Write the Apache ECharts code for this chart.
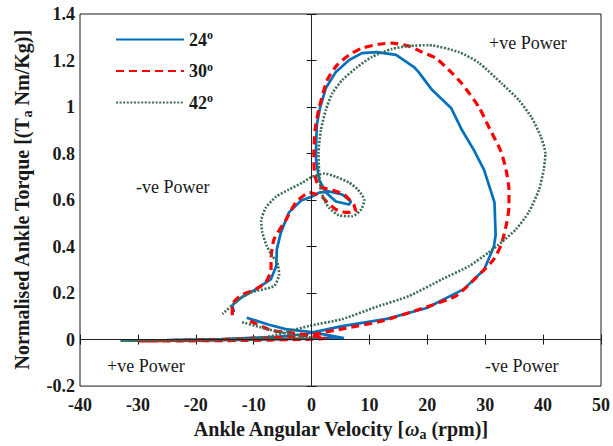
<!DOCTYPE html>
<html lang="en">
<head>
    <meta charset="UTF-8">
    <title>Ankle torque vs angular velocity</title>
    <script src="https://cdn.jsdelivr.net/npm/echarts@6.0.0/dist/echarts.min.js"></script>
    <style>
        html, body { margin: 0; padding: 0; background: #fff; }
        #main { width: 613px; height: 446px; }
    </style>
</head>
<body>
<div id="main"></div>
<script>
    // axis ticks
    var xTicks = [-40, -30, -20, -10, 0, 10, 20, 30, 40, 50];
    var yTicks = [-0.2, 0, 0.2, 0.4, 0.6, 0.8, 1, 1.2, 1.4];

    // legend names (degrees)
    var angles = ['24', '30', '42'];

    // 24 deg : angular velocity (rpm) / normalised torque
    var vel24 = [-11.2, -7.5, -4.5, 0, 5.6, 2, 0, -10, -20, -33, -25, -15, -6, -2, 0,
        5.3, 13.0, 19.9, 26.3, 29.8, 31.5, 31.8, 31.6, 29.8, 28.0, 26.0, 24.1, 20.8, 18.5, 17.7,
        14.6, 11.3, 8.7, 6.5, 4.2, 2.5, 1.5, 0.95, 0.8, 0.78, 1.3, 2.5, 4.2, 6.5, 6.8,
        5.3, 3.0, 1.3, 0.1, -1.8, -3.9, -5.3, -6.0, -6.1, -7.0, -9.6, -12.0, -13.7, -13.4];
    var tq24 = [0.094, 0.065, 0.045, 0.032, 0.006, 0.006, 0.004, 0.0, -0.003, -0.004, -0.002, 0.002, 0.012, 0.022, 0.03,
        0.058, 0.089, 0.136, 0.217, 0.30, 0.40, 0.45, 0.59, 0.73, 0.817, 0.90, 0.996, 1.074, 1.15, 1.172,
        1.224, 1.236, 1.232, 1.202, 1.151, 1.083, 1.0, 0.93, 0.85, 0.774, 0.688, 0.632, 0.594, 0.581, 0.594,
        0.624, 0.637, 0.632, 0.615, 0.598, 0.547, 0.461, 0.388, 0.316, 0.26, 0.217, 0.183, 0.148, 0.118];

    // 30 deg
    var vel30 = [-10.6, -7.0, -4, 0, 2.5, 0, -10, -20, -30, -20, -10, -3, 0.8,
        5.3, 12.2, 19.8, 24.9, 29.4, 31.5, 32.8, 33.7, 34.1, 34.1, 33.6, 32.7, 30.6, 28.9, 26.0, 24.1,
        21.5, 19.1, 16.8, 13.9, 11.6, 8.7, 6.5, 4.4, 2.7, 1.3, 0.6, 0.4, 0.5, 1.2,
        3.6, 5.6, 7.3, 7.6, 5.9, 4.2, 2.7, 1.8, -0.4, -2.7, -4.4, -6.5, -7.0, -7.0, -7.9,
        -9.6, -12.2, -13.7, -13.7];
    var tq30 = [0.08, 0.04, 0.03, 0.018, 0.006, 0.002, -0.003, -0.005, -0.006, -0.002, 0.005, 0.012, 0.025,
        0.046, 0.08, 0.14, 0.187, 0.29, 0.346, 0.41, 0.50, 0.57, 0.645, 0.73, 0.81, 0.915, 1.0, 1.1, 1.15,
        1.21, 1.236, 1.262, 1.275, 1.27, 1.253, 1.224, 1.18, 1.116, 0.996, 0.90, 0.80, 0.72, 0.66,
        0.642, 0.624, 0.58, 0.55, 0.547, 0.56, 0.59, 0.615, 0.632, 0.59, 0.516, 0.43, 0.345, 0.30, 0.247,
        0.217, 0.19, 0.15, 0.10];

    // 42 deg
    var vel42 = [-12, -9, -5.6, -3, 0, -10, -20, -33, -20, -8, -4, -0.4,
        5.3, 11.1, 16.8, 22.6, 27.2, 30.6, 32.9, 35.3, 37.5, 39.3, 40.1, 40.4, 39.6, 38.0, 35.8,
        32.9, 28.9, 25.5, 20.3, 16.8, 13.9, 10.4, 7.9, 5.3, 3.6, 2.5, 1.6, 1.2, 1.3, 1.6,
        2.2, 3.0, 4.7, 7.0, 8.6, 9.1, 8.0, 6.5, 4.2, 2.2, 0.1, -1.6, -3.9, -6.1, -7.9,
        -8.7, -8.5, -7.7, -6.8, -5.9, -5.6, -6.5, -10.3, -12.5, -15.4];
    var tq42 = [0.075, 0.054, 0.033, 0.02, 0.008, 0.0, -0.003, -0.005, -0.001, 0.01, 0.035, 0.059,
        0.088, 0.14, 0.187, 0.26, 0.316, 0.375, 0.42, 0.474, 0.547, 0.645, 0.73, 0.80, 0.873, 0.955, 1.03,
        1.10, 1.19, 1.236, 1.266, 1.262, 1.25, 1.215, 1.172, 1.116, 1.06, 0.99, 0.90, 0.80, 0.73, 0.645,
        0.60, 0.567, 0.535, 0.53, 0.56, 0.60, 0.645, 0.675, 0.70, 0.714, 0.70, 0.675, 0.645, 0.615, 0.567,
        0.51, 0.46, 0.40, 0.36, 0.33, 0.28, 0.23, 0.204, 0.174, 0.11];

    var serif = 'Liberation Serif';
    var ink = '#1a1a1a';

    function pairs(xs, ys) {
        var out = [];
        for (var i = 0; i < xs.length; i++) out.push([xs[i], ys[i]]);
        return out;
    }

    var myChart = echarts.init(document.getElementById('main'), null, {renderer: 'svg'});

    var labelStyle = {fontFamily: serif, fontWeight: 'bold', fontSize: 18, color: ink};
    var nameStyle = {fontFamily: serif, fontWeight: 'bold', fontSize: 20, color: ink};
    var subStyle = {fontFamily: serif, fontWeight: 'bold', fontSize: 14, color: ink, padding: [10, 0, 0, 0]};

    function baseX(pos) {
        return {
            type: 'value', position: pos,
            min: xTicks[0], max: xTicks[xTicks.length - 1], interval: 10,
            axisLine: {show: false},
            axisTick: {inside: true, length: 5, lineStyle: {color: ink}},
            splitLine: {show: false}
        };
    }
    function baseY(pos) {
        return {
            type: 'value', position: pos,
            min: yTicks[0], max: yTicks[yTicks.length - 1], interval: 0.2,
            axisLine: {show: false},
            axisTick: {inside: true, length: 5, lineStyle: {color: ink}},
            splitLine: {show: false}
        };
    }

    // tick labels: plain hyphen minus like the source
    function tickFmt(v) {
        var s = String(Math.round(v * 10) / 10).replace('\u2212', '-');
        return '{t|' + s + '}';
    }

    var xMain = baseX('bottom');
    xMain.axisLabel = {margin: 10, formatter: tickFmt, rich: {t: labelStyle}};
    xMain.name = 'Ankle Angular Velocity [{w|ω}{sub|a} (rpm)]';
    xMain.nameLocation = 'middle';
    xMain.nameGap = 30;
    xMain.nameTextStyle = Object.assign({}, nameStyle, {
        rich: {
            w: Object.assign({}, nameStyle, {fontStyle: 'italic'}),
            sub: subStyle
        }
    });
    var xTop = baseX('top');
    xTop.axisLabel = {show: false};

    var yMain = baseY('left');
    yMain.axisLabel = {margin: 5, formatter: tickFmt, rich: {t: labelStyle}};
    yMain.name = 'Normalised Ankle Torque [(T{sub|a} Nm/Kg)]';
    yMain.nameLocation = 'middle';
    yMain.nameRotate = 90;
    yMain.nameGap = 46;
    yMain.nameTextStyle = Object.assign({}, nameStyle, {rich: {sub: subStyle}});
    var yRight = baseY('right');
    yRight.axisLabel = {show: false};

    var option = {
        animation: false,
        textStyle: {fontFamily: serif},
        grid: {left: 80, right: 11, top: 14, bottom: 59, show: true, borderColor: ink, borderWidth: 1},
        xAxis: [xMain, xTop],
        yAxis: [yMain, yRight],
        legend: {
            data: angles,
            orient: 'vertical',
            left: 115, top: 29, padding: 0,
            itemWidth: 68, itemHeight: 14, itemGap: 12,
            itemStyle: {opacity: 0},
            formatter: function (name) { return name + '{sup|o}'; },
            textStyle: {
                fontFamily: serif, fontWeight: 'bold', fontSize: 18, color: ink,
                rich: {sup: {fontFamily: serif, fontWeight: 'bold', fontSize: 12, color: ink, padding: [0, 0, 9, 0]}}
            }
        },
        series: [
            {
                name: angles[0], type: 'line', data: pairs(vel24, tq24),
                symbol: 'none', smooth: false,
                lineStyle: {color: '#0072BD', width: 2.7},
                itemStyle: {color: '#0072BD'},
                markLine: {
                    silent: true, symbol: ['none', 'none'], label: {show: false},
                    lineStyle: {color: '#222', width: 1, type: 'solid'},
                    data: [{xAxis: 0}, {yAxis: 0}]
                }
            },
            {
                name: angles[1], type: 'line', data: pairs(vel30, tq30),
                symbol: 'none', smooth: 0.2,
                lineStyle: {color: '#FF0000', width: 3.2, type: [8, 5]},
                itemStyle: {color: '#FF0000'}
            },
            {
                name: angles[2], type: 'line', data: pairs(vel42, tq42),
                symbol: 'none', smooth: 0.2,
                lineStyle: {color: '#3d6e55', width: 2.6, type: [2, 1.6]},
                itemStyle: {color: '#3d6e55'}
            }
        ],
        graphic: [
            {type: 'text', x: 489, y: 43, style: {text: '+ve Power', font: '18px "Liberation Serif"', fill: ink, verticalAlign: 'middle'}},
            {type: 'text', x: 136, y: 187, style: {text: '-ve Power', font: '18px "Liberation Serif"', fill: ink, verticalAlign: 'middle'}},
            {type: 'text', x: 107, y: 366, style: {text: '+ve Power', font: '18px "Liberation Serif"', fill: ink, verticalAlign: 'middle'}},
            {type: 'text', x: 485, y: 366, style: {text: '-ve Power', font: '18px "Liberation Serif"', fill: ink, verticalAlign: 'middle'}}
        ]
    };

    myChart.setOption(option);
</script>
</body>
</html>
